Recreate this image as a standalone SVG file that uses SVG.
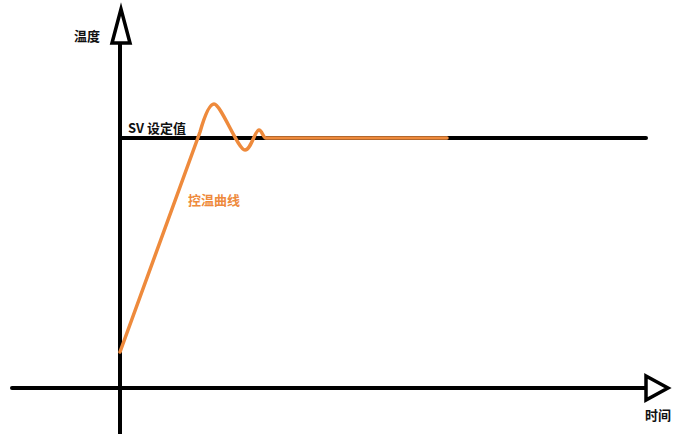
<svg xmlns="http://www.w3.org/2000/svg" width="685" height="434" viewBox="0 0 685 434">
<style>
.ax{stroke:#000;stroke-width:4;fill:none;stroke-linecap:round}
.hd{stroke:#000;stroke-width:3.5;fill:#fff;stroke-linejoin:miter}
.t{font-family:"Noto Sans CJK SC","Noto Sans",sans-serif;font-weight:bold;font-size:13px;fill:#111}
.o{fill:#EE8A3C}
</style>
<rect width="685" height="434" fill="#fff"/>
<g id="connectors">
<line class="ax" x1="120" y1="42" x2="120" y2="434"/>
<polygon class="hd" points="112,43 121,9 130,43"/>
<line class="ax" x1="12" y1="388" x2="646" y2="388"/>
<polygon class="hd" points="646,376 668,388 646,400"/>
<line x1="120" y1="138" x2="646" y2="138" stroke="#000" stroke-width="4" stroke-linecap="round"/>
<path fill="none" stroke="#EE8A3C" stroke-width="3.5" stroke-linejoin="round" stroke-linecap="round" d="M120,352 L200,132 C204,118 209,104 214,104 C221,104 238,150 245,150 C251,150 255,130 259,130 C262,130 263,138 266,138 L447,138"/>
</g>
<g id="label-temp"><text class="t" x="74" y="41">温度</text></g>
<g id="label-sv"><text class="t" x="128" y="133" font-size="14">SV 设定值</text></g>
<g id="label-curve"><text class="t o" x="188" y="205">控温曲线</text></g>
<g id="label-time"><text class="t" x="645" y="420">时间</text></g>
</svg>
